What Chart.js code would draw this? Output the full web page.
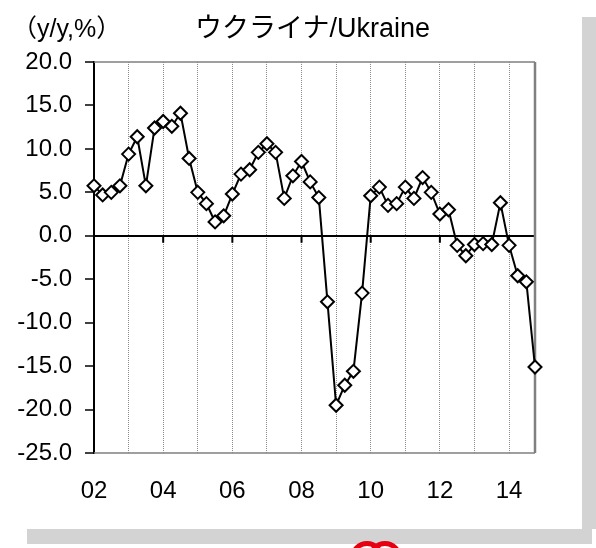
<!DOCTYPE html>
<html>
<head>
<meta charset="utf-8">
<script src="https://cdn.jsdelivr.net/npm/chart.js@4"></script>
<style>
  body { margin: 0; background: #fff; width: 596px; height: 548px; overflow: hidden; position: relative; }
  #panel { position: absolute; left: 0; top: 0; width: 582px; height: 529px; background: #fff; }
  .shade { position: absolute; background: #d3d3d3; }
  .txt { position: absolute; white-space: nowrap; color: #000; line-height: 1;
         font-family: "Liberation Sans", Arial, "Noto Sans CJK JP", sans-serif; }
  .logo { position: absolute; border: 5px solid #e60012; border-radius: 50%; width: 24px; height: 24px; }
</style>
</head>
<body>
<div class="shade" style="left:582px; top:17px; width:14px; height:512px;"></div>
<div class="shade" style="left:27px; top:529px; width:565px; height:15px;"></div>
<div class="logo" style="left:350px; top:541px;"></div>
<div class="logo" style="left:368px; top:541px;"></div>
<div id="panel"><canvas id="chart" width="582" height="529"></canvas></div>
<div class="txt" style="left:12px; top:16px; font-size:25px;">（y/y,%）</div>
<div class="txt" style="left:195px; top:15px; font-size:27px;">ウクライナ/Ukraine</div>

<script>
//////////////////////
// Data (quarterly, 2002Q1 - 2014Q4)
//////////////////////
const years = ["02", "03", "04", "05", "06", "07", "08", "09", "10", "11", "12", "13", "14"];
const quarters = [];
years.forEach(y => { for (let q = 1; q <= 4; q++) quarters.push(y + "Q" + q); });

const growth = [
    5.75, 4.7, 5.0, 5.75,
    9.4, 11.4, 5.75, 12.4,
    13.15, 12.6, 14.1, 8.9,
    5.0, 3.7, 1.6, 2.3,
    4.8, 7.1, 7.6, 9.6,
    10.6, 9.6, 4.3, 6.9,
    8.55, 6.2, 4.4, -7.6,
    -19.5, -17.2, -15.6, -6.6,
    4.6, 5.6, 3.5, 3.7,
    5.6, 4.3, 6.7, 5.0,
    2.5, 3.0, -1.1, -2.3,
    -1.0, -0.9, -1.0, 3.8,
    -1.1, -4.6, -5.3, -15.1
];

const yTicks = [20, 15, 10, 5, 0, -5, -10, -15, -20, -25];

//////////////////////
// Frame + zero line ticks
//////////////////////
const framePlugin = {
    id: "frame",
    beforeDatasetsDraw(chart) {
        const { ctx, chartArea: a, scales: { x, y } } = chart;
        ctx.save();
        ctx.strokeStyle = "#808080";
        ctx.lineWidth = 1.5;
        ctx.beginPath();
        ctx.moveTo(a.left, a.top); ctx.lineTo(a.right, a.top);
        ctx.moveTo(a.left, a.bottom); ctx.lineTo(a.right, a.bottom);
        ctx.stroke();
        ctx.lineWidth = 2.5;
        ctx.beginPath();
        ctx.moveTo(a.right, a.top); ctx.lineTo(a.right, a.bottom);
        ctx.stroke();

        // ticks on the zero line, every 2 years
        const y0 = y.getPixelForValue(0);
        ctx.strokeStyle = "#000";
        ctx.lineWidth = 2;
        ctx.beginPath();
        for (let i = 0; i < quarters.length; i += 8) {
            const px = x.getPixelForValue(i);
            ctx.moveTo(px, y0); ctx.lineTo(px, y0 + 7);
        }
        ctx.stroke();
        ctx.restore();
    }
};

//////////////////////
// Chart
//////////////////////
const ctx = document.getElementById("chart").getContext("2d");

new Chart(ctx, {
    type: "line",
    data: {
        labels: quarters,
        datasets: [{
            data: growth,
            borderColor: "#000",
            borderWidth: 2,
            tension: 0,
            pointStyle: "rectRot",
            pointRadius: 6.5,
            pointBorderWidth: 2,
            pointBorderColor: "#000",
            pointBackgroundColor: "#fff",
            clip: false
        }]
    },
    options: {
        responsive: false,
        animation: false,
        layout: { padding: { top: 62, right: 47, left: 0, bottom: 0 } },
        plugins: {
            legend: { display: false },
            title: { display: false },
            tooltip: { enabled: false }
        },
        scales: {
            x: {
                type: "category",
                offset: false,
                afterFit(scale) { scale.height = 76; },
                grid: {
                    color: c => (c.index % 4 === 0 ? "#8c8c8c" : "transparent"),
                    lineWidth: 1,
                    drawTicks: false
                },
                border: { display: false, dash: [1, 1] },
                ticks: {
                    autoSkip: false,
                    maxRotation: 0,
                    padding: 24,
                    color: "#000",
                    font: { family: "'Liberation Sans', Arial, sans-serif", size: 24 },
                    callback: (v, i) => (i % 8 === 0 ? years[i / 4] : "")
                }
            },
            y: {
                min: -25,
                max: 20,
                afterFit(scale) { scale.width = 94; },
                afterBuildTicks(scale) { scale.ticks = yTicks.map(v => ({ value: v })); },
                grid: {
                    color: c => (c.tick && c.tick.value === 0 ? "#000" : "transparent"),
                    lineWidth: 2,
                    tickColor: "#000",
                    tickLength: 9,
                    tickWidth: 1.5
                },
                border: { display: true, color: "#000", width: 2 },
                ticks: {
                    padding: 13,
                    color: "#000",
                    font: { family: "'Liberation Sans', Arial, sans-serif", size: 24 },
                    callback: v => Number(v).toFixed(1)
                }
            }
        }
    },
    plugins: [framePlugin]
});
</script>
</body>
</html>
